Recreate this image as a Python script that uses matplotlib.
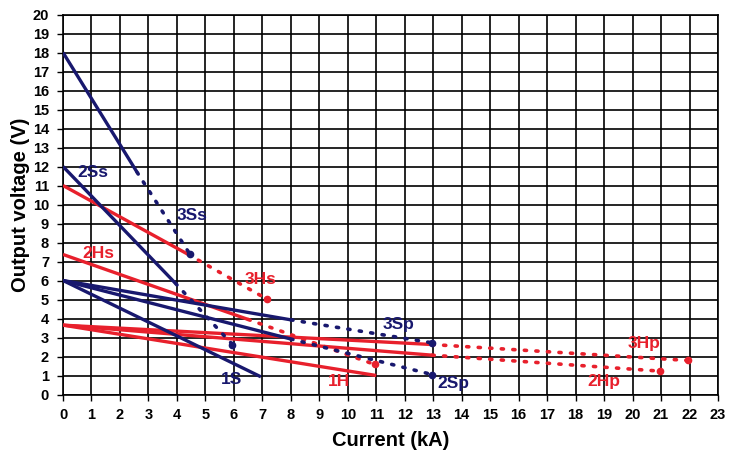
import matplotlib
matplotlib.use("Agg")
import matplotlib.pyplot as plt
from matplotlib import font_manager

NAVY = "#18186e"
RED = "#e8202c"

# series: solid part (x, y) and dotted part (x, y)
s3Ss_solid_x = [0, 2.6];      s3Ss_solid_y = [18, 11.7]
s3Ss_dot_x = [2.6, 4.45];     s3Ss_dot_y = [11.7, 7.4]
s2Ss_solid_x = [0, 3.95];     s2Ss_solid_y = [12, 5.85]
s2Ss_dot_x = [3.95, 5.95];    s2Ss_dot_y = [5.85, 2.63]
s1S_x = [0, 6.95];            s1S_y = [6, 0.93]
s3Sp_solid_x = [0, 8];        s3Sp_solid_y = [6, 3.93]
s3Sp_dot_x = [8, 12.96];      s3Sp_dot_y = [3.93, 2.72]
s2Sp_solid_x = [0, 8];        s2Sp_solid_y = [6, 2.92]
s2Sp_dot_x = [8, 12.96];      s2Sp_dot_y = [2.92, 1.05]

h3Hs_solid_x = [0, 4.4];      h3Hs_solid_y = [11, 7.37]
h3Hs_dot_x = [4.4, 7.15];     h3Hs_dot_y = [7.37, 5.03]
h2Hs_solid_x = [0, 6.5];      h2Hs_solid_y = [7.37, 3.95]
h2Hs_dot_x = [6.5, 10.95];    h2Hs_dot_y = [3.95, 1.58]
h1H_x = [0, 11];              h1H_y = [3.65, 1.0]
h3Hp_solid_x = [0, 12.96];    h3Hp_solid_y = [3.65, 2.63]
h3Hp_dot_x = [12.96, 21.96];  h3Hp_dot_y = [2.63, 1.79]
h2Hp_solid_x = [0, 12.96];    h2Hp_solid_y = [3.65, 2.07]
h2Hp_dot_x = [12.96, 20.97];  h2Hp_dot_y = [2.07, 1.23]

labels = ["2Ss", "3Ss", "2Hs", "3Hs", "3Sp", "1S", "1H", "2Sp", "3Hp", "2Hp"]
label_x = [1.05, 4.55, 1.25, 6.95, 11.8, 5.9, 9.7, 13.7, 20.4, 19.0]
label_y = [11.7, 9.4, 7.4, 6.05, 3.7, 0.8, 0.7, 0.6, 2.7, 0.7]
label_c = [NAVY, NAVY, RED, RED, NAVY, NAVY, RED, NAVY, RED, RED]

x_ticks = list(range(0, 24))
y_ticks = list(range(0, 21))

avail = {f.name for f in font_manager.fontManager.ttflist}
fam = "Liberation Sans Narrow" if "Liberation Sans Narrow" in avail else "Liberation Sans"
plt.rcParams["font.family"] = [fam, "DejaVu Sans"]

fig = plt.figure(figsize=(7.35, 4.57), dpi=100)
ax = fig.add_axes([63/735, 1-394.5/457, (718-63)/735, 380/457])

ax.set_xlim(0, 23)
ax.set_ylim(0, 20)
ax.set_xticks(x_ticks)
ax.set_yticks(y_ticks)
ax.grid(True, color="black", linewidth=1.2)
ax.set_axisbelow(True)
for sp in ax.spines.values():
    sp.set_color("black")
    sp.set_linewidth(1.2)
ax.tick_params(direction="out", length=4, width=1, colors="black", labelsize=10.5, pad=6)
for t in ax.get_xticklabels() + ax.get_yticklabels():
    t.set_fontweight("bold")

lw = 2.4
def solid(x, y, c):
    ax.plot(x, y, color=c, lw=lw, solid_capstyle="butt", zorder=3)

def dotted(x, y, c):
    ax.plot(x, y, color=c, lw=2.6, linestyle=(0, (0.6, 2.6)), dash_capstyle="round", zorder=3)
    ax.plot([x[-1]], [y[-1]], "o", color=c, ms=4.5, zorder=4)

solid(h3Hs_solid_x, h3Hs_solid_y, RED); dotted(h3Hs_dot_x, h3Hs_dot_y, RED)
solid(h2Hs_solid_x, h2Hs_solid_y, RED); dotted(h2Hs_dot_x, h2Hs_dot_y, RED)
solid(h1H_x, h1H_y, RED)
solid(h3Hp_solid_x, h3Hp_solid_y, RED); dotted(h3Hp_dot_x, h3Hp_dot_y, RED)
solid(h2Hp_solid_x, h2Hp_solid_y, RED); dotted(h2Hp_dot_x, h2Hp_dot_y, RED)

solid(s3Ss_solid_x, s3Ss_solid_y, NAVY); dotted(s3Ss_dot_x, s3Ss_dot_y, NAVY)
solid(s2Ss_solid_x, s2Ss_solid_y, NAVY); dotted(s2Ss_dot_x, s2Ss_dot_y, NAVY)
solid(s1S_x, s1S_y, NAVY)
solid(s3Sp_solid_x, s3Sp_solid_y, NAVY); dotted(s3Sp_dot_x, s3Sp_dot_y, NAVY)
solid(s2Sp_solid_x, s2Sp_solid_y, NAVY); dotted(s2Sp_dot_x, s2Sp_dot_y, NAVY)

for t, x, y, c in zip(labels, label_x, label_y, label_c):
    ax.text(x, y, t, color=c, fontsize=12.5, fontweight="bold", ha="center", va="center", zorder=5)

ax.set_xlabel("Current (kA)", fontsize=14.5, fontweight="bold", labelpad=6)
ax.set_ylabel("Output voltage (V)", fontsize=14.5, fontweight="bold", labelpad=2)

fig.savefig("out.png", dpi=100)
